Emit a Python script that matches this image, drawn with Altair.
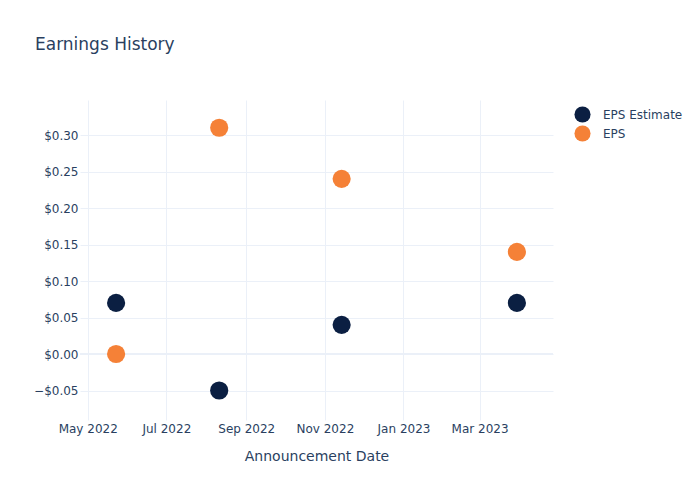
import altair as alt
import pandas as pd

dates = ["2022-05-23", "2022-08-11", "2022-11-14", "2023-03-30"]
eps_estimate = [0.07, -0.05, 0.04, 0.07]
eps_actual = [0.00, 0.31, 0.24, 0.14]
series_names = ["EPS Estimate", "EPS"]
series_colors = ["#0B1F42", "#F58137"]

rows = []
for d, v in zip(dates, eps_estimate):
    rows.append({"date": d, "value": v, "series": "EPS Estimate"})
for d, v in zip(dates, eps_actual):
    rows.append({"date": d, "value": v, "series": "EPS"})
df = pd.DataFrame(rows)

FONT = "DejaVu Sans"
TXT = "#2a3f5f"
GRID = "#EBF0F8"

xticks = [alt.DateTime(year=y, month=m, date=1, utc=True)
          for (y, m) in [(2022, 5), (2022, 7), (2022, 9), (2022, 11), (2023, 1), (2023, 3)]]

yscale = alt.Scale(domain=[-0.0904, 0.348], nice=False, zero=False)

zero = alt.Chart(pd.DataFrame({"z": [0.0]})).mark_rule(color=GRID, strokeWidth=2).encode(
    y=alt.Y("z:Q", scale=yscale)
)

points = alt.Chart(df).mark_circle(size=330, opacity=1).encode(
    x=alt.X("date:T",
            scale=alt.Scale(type="utc",
                            domain=[alt.DateTime(year=2022, month=4, date=25, utc=True),
                                    alt.DateTime(year=2023, month=4, date=27, utc=True)]),
            axis=alt.Axis(title="Announcement Date", values=xticks,
                          labelExpr="utcFormat(datum.value, '%b %Y')",
                          grid=True, gridColor=GRID, domain=False,
                          ticks=False, labelPadding=3, titlePadding=15,
                          labelFont=FONT, labelFontSize=12, labelColor=TXT,
                          titleFont=FONT, titleFontSize=14, titleColor=TXT,
                          titleFontWeight="normal")),
    y=alt.Y("value:Q", scale=yscale,
            axis=alt.Axis(title=None, values=[-0.05, 0.0, 0.05, 0.10, 0.15, 0.20, 0.25, 0.30],
                          format="$.2f", grid=True, gridColor=GRID, domain=False,
                          ticks=False, labelPadding=2,
                          labelFont=FONT, labelFontSize=12, labelColor=TXT)),
    color=alt.Color("series:N",
                    scale=alt.Scale(domain=series_names, range=series_colors),
                    sort=series_names,
                    legend=alt.Legend(title=None, orient="none", legendX=494, legendY=6,
                                      symbolType="circle", symbolSize=260,
                                      labelOffset=12,
                                      labelFont=FONT, labelFontSize=12, labelColor=TXT,
                                      rowPadding=2, symbolStrokeWidth=0)),
)

chart = alt.layer(zero, points).properties(
    width=473, height=320,
    background="white",
    title=alt.TitleParams("Earnings History", anchor="start", frame="group", dx=-45,
                          offset=46, font=FONT, fontSize=17, color=TXT,
                          fontWeight="normal"),
    autosize=alt.AutoSizeParams(type="none"),
    padding={"left": 80, "top": 100, "right": 147, "bottom": 80},
).configure_view(stroke="transparent", strokeWidth=0)

chart.save("out.html", embed_options={"renderer": "svg", "actions": False})
